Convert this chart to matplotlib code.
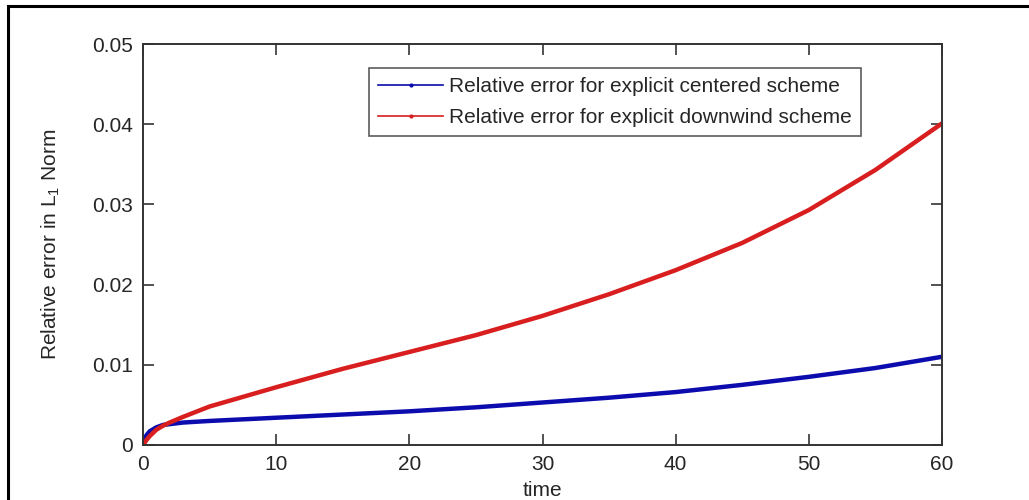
import matplotlib
matplotlib.use("Agg")
import matplotlib.pyplot as plt
from matplotlib.lines import Line2D
from matplotlib.patches import Rectangle

time = [0, 0.25, 0.5, 1, 1.5, 2, 3, 5, 7.5, 10, 15, 20, 25, 30, 35, 40, 45, 50, 55, 60]
err_centered = [0, 0.0012, 0.0017, 0.0022, 0.0025, 0.0026, 0.0028, 0.0030, 0.0032, 0.0034,
                0.0038, 0.0042, 0.0047, 0.0053, 0.0059, 0.0066, 0.0075, 0.0085, 0.0096, 0.0110]
err_downwind = [0, 0.0006, 0.0011, 0.0019, 0.0024, 0.0028, 0.0035, 0.0048, 0.0060, 0.0072,
                0.0095, 0.0116, 0.0137, 0.0161, 0.0188, 0.0218, 0.0252, 0.0293, 0.0343, 0.0401]
labels = ["Relative error for explicit centered scheme",
          "Relative error for explicit downwind scheme"]
xticks = [0, 10, 20, 30, 40, 50, 60]
yticks = [0, 0.01, 0.02, 0.03, 0.04, 0.05]
ytick_labels = ["0", "0.01", "0.02", "0.03", "0.04", "0.05"]

plt.rcParams['font.family'] = ['Liberation Sans', 'DejaVu Sans']
plt.rcParams['mathtext.fontset'] = 'custom'
plt.rcParams['mathtext.rm'] = 'Liberation Sans'
plt.rcParams['mathtext.it'] = 'Liberation Sans'

BLUE = '#0c0cae'
RED = '#d81e1e'
AX = '#333333'
TXT = '#262626'
FS = 15

fig = plt.figure(figsize=(10.29, 5.0), dpi=100)
fig.patch.set_facecolor('white')
ax = fig.add_axes([143/1029, 55/500, (942-143)/1029, (445-44)/500])

ax.plot(time, err_centered, color=BLUE, lw=3.2, solid_capstyle='round')
ax.plot(time, err_downwind, color=RED, lw=3.2, solid_capstyle='round')

ax.set_xlim(0, 60)
ax.set_ylim(0, 0.05)
ax.set_xticks(xticks)
ax.set_xticklabels([str(v) for v in xticks])
ax.set_yticks(yticks)
ax.set_yticklabels(ytick_labels)
ax.tick_params(direction='in', length=8, width=1.2, color=AX, labelsize=FS,
               top=True, right=True, pad=7, labelcolor=TXT)
for s in ax.spines.values():
    s.set_color(AX)
    s.set_linewidth(1.4)

ax.set_xlabel("time", fontsize=FS, color=TXT, labelpad=5)
ax.set_ylabel(r"Relative error in L$_1$ Norm", fontsize=FS, color=TXT, labelpad=22)

handles = [Line2D([], [], color=BLUE, lw=1.2, marker='.', markersize=4),
           Line2D([], [], color=RED, lw=1.2, marker='.', markersize=4)]
leg = ax.legend(handles, labels, loc='upper left', bbox_to_anchor=((369-143)/799, 1 - (68-44)/401),
                fontsize=FS, frameon=True, fancybox=False, borderpad=0.45,
                handlelength=3.1, handletextpad=0.3, labelspacing=0.55, borderaxespad=0)
leg.get_frame().set_edgecolor(AX)
leg.get_frame().set_linewidth(1.2)
for t in leg.get_texts():
    t.set_color(TXT)

border = Rectangle((8/1029, -0.2), 1.2, 1.2 - 5.5/500, transform=fig.transFigure,
                   fill=False, edgecolor='black', lw=2.2, clip_on=False)
fig.patches.append(border)

fig.savefig("out.png", dpi=100)
